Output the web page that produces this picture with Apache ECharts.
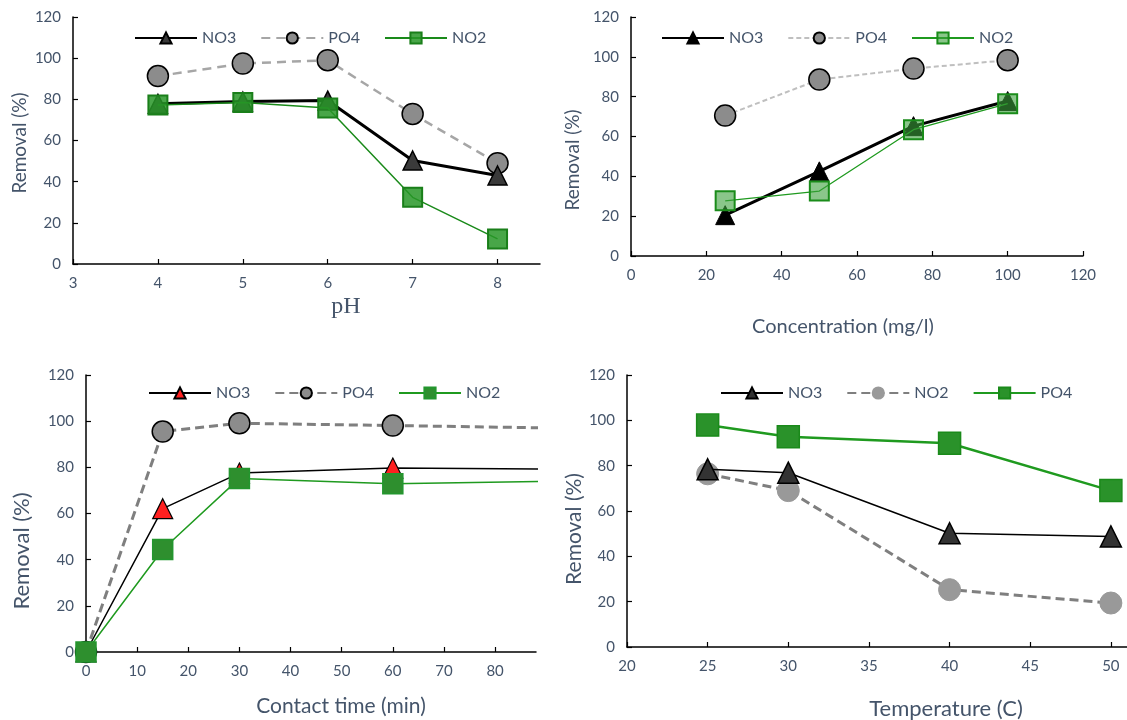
<!DOCTYPE html>
<html>
<head>
<meta charset="utf-8">
<script src="https://cdn.jsdelivr.net/npm/echarts@6/dist/echarts.min.js"></script>
<style>html,body{margin:0;padding:0;background:#fff}#c{width:1127px;height:720px}</style>
</head>
<body>
<div id="c"></div>
<script>
// Panel 1: pH
var pH = [4, 5, 6, 7, 8];
var pH_NO3 = [77.8, 78.9, 79.4, 50.3, 43];
var pH_PO4 = [91.3, 97.4, 99, 72.9, 49];
var pH_NO2 = [77.3, 78.5, 75.8, 32.4, 12.2];
// Panel 2: concentration
var conc = [25, 50, 75, 100];
var conc_NO3 = [20.5, 42.5, 65.2, 77.8];
var conc_PO4 = [70.5, 88.6, 94.1, 98.3];
var conc_NO2 = [27.7, 32.6, 63.4, 76.5];
// Panel 3: contact time
var time = [0, 15, 30, 60, 90];
var time_NO3 = [0, 62.1, 77.5, 79.7, 79.3];
var time_PO4 = [0, 95.5, 99.1, 98.1, 97.1];
var time_NO2 = [0, 44.4, 75.2, 72.9, 73.9];
// Panel 4: temperature
var temp = [25, 30, 40, 50];
var temp_NO3 = [78.4, 76.9, 50.2, 48.8];
var temp_NO2 = [76.4, 69.0, 25.3, 19.4];
var temp_PO4 = [97.9, 92.8, 89.9, 69.0];
// tick labels
var yTicks = [0, 20, 40, 60, 80, 100, 120];
var xTicks1 = [3, 4, 5, 6, 7, 8];
var xTicks2 = [0, 20, 40, 60, 80, 100, 120];
var xTicks3 = [0, 10, 20, 30, 40, 50, 60, 70, 80];
var xTicks4 = [20, 25, 30, 35, 40, 45, 50];

function pairs(xs, ys) { return xs.map(function (x, i) { return [x, ys[i]]; }); }

var TXT = '#44546a';
var FONT = 'Lato';

function xAx(idx, min, max, ticks) {
  return {
    type: 'value', gridIndex: idx, min: min, max: max,
    splitLine: { show: false },
    axisLine: { lineStyle: { color: '#000', width: 1.5 } },
    axisTick: { show: true, inside: true, length: 5, lineStyle: { color: '#000', width: 1.2 }, customValues: ticks },
    axisLabel: { color: TXT, fontSize: 15, fontFamily: FONT, margin: 12, customValues: ticks }
  };
}
function yAx(idx) {
  return {
    type: 'value', gridIndex: idx, min: 0, max: 120, interval: 20,
    splitLine: { show: false },
    axisLine: { show: true, lineStyle: { color: '#000', width: 1.5 } },
    axisTick: { show: true, inside: true, length: 5, lineStyle: { color: '#000', width: 1.2 } },
    axisLabel: { color: TXT, fontSize: 15, fontFamily: FONT, margin: 12 }
  };
}
function ser(idx, name, data, o) {
  return {
    type: 'line', name: idx + '|' + name, xAxisIndex: idx, yAxisIndex: idx,
    data: data, symbol: o.symbol, symbolSize: o.size,
    lineStyle: { color: o.line, width: o.lw, type: o.dash || 'solid' },
    itemStyle: { color: o.fill, borderColor: o.border, borderWidth: o.bw },
    emphasis: { disabled: true }, animation: false, z: o.z || 2
  };
}
function legend(idx, left, top) {
  return {
    data: [idx + '|' + arguments[3], idx + '|' + arguments[4], idx + '|' + arguments[5]],
    left: left, top: top, itemWidth: 62, itemHeight: 14, itemGap: 24,
    formatter: function (n) { return n.split('|')[1]; },
    textStyle: { color: TXT, fontSize: 16, fontFamily: FONT },
    selectedMode: false
  };
}
function txt(x, y, s, size, rot, fam) {
  return {
    type: 'text', x: x, y: y, rotation: rot ? Math.PI / 2 : 0,
    style: { text: s, font: size + 'px ' + (fam || FONT), fill: TXT, align: 'center', verticalAlign: 'middle' }
  };
}

var option = {
  backgroundColor: '#fff',
  animation: false,
  grid: [
    { left: 73, top: 17, width: 467, height: 247 },
    { left: 631, top: 17, width: 452, height: 239 },
    { left: 86, top: 375, width: 450, height: 277 },
    { left: 627, top: 375, width: 500, height: 272 }
  ],
  xAxis: [
    xAx(0, 3, 8.5, xTicks1),
    xAx(1, 0, 120, xTicks2),
    xAx(2, 0, 88, xTicks3),
    xAx(3, 20, 51, xTicks4)
  ],
  yAxis: [yAx(0), yAx(1), yAx(2), yAx(3)],
  legend: [
    legend(0, 129, 25, 'NO3', 'PO4', 'NO2'),
    legend(1, 656, 25, 'NO3', 'PO4', 'NO2'),
    legend(2, 143, 380, 'NO3', 'PO4', 'NO2'),
    legend(3, 715, 380, 'NO3', 'NO2', 'PO4')
  ],
  series: [
    ser(0, 'PO4', pairs(pH, pH_PO4), { symbol: 'circle', size: 21, line: '#a6a6a6', lw: 2.5, dash: [9, 6], fill: '#8c8c8c', border: '#000', bw: 1.5 }),
    ser(0, 'NO3', pairs(pH, pH_NO3), { symbol: 'triangle', size: 19, line: '#000', lw: 3, fill: '#3a3a3a', border: '#000', bw: 1.5, z: 3 }),
    ser(0, 'NO2', pairs(pH, pH_NO2), { symbol: 'rect', size: 19, line: '#1a8a1a', lw: 1.5, fill: 'rgba(40,150,40,0.85)', border: '#1a7f1a', bw: 2, z: 4 }),

    ser(1, 'NO3', pairs(conc, conc_NO3), { symbol: 'triangle', size: 19, line: '#000', lw: 3, fill: '#000', border: '#000', bw: 1, z: 3 }),
    ser(1, 'PO4', pairs(conc, conc_PO4), { symbol: 'circle', size: 21, line: '#bfbfbf', lw: 2, dash: [5, 3], fill: '#8c8c8c', border: '#000', bw: 1.5 }),
    ser(1, 'NO2', pairs(conc, conc_NO2), { symbol: 'rect', size: 19, line: '#1f9a1f', lw: 1.3, fill: 'rgba(60,160,60,0.6)', border: '#1a8c1a', bw: 2, z: 4 }),

    ser(2, 'NO3', pairs(time, time_NO3), { symbol: 'triangle', size: 20, line: '#000', lw: 1.5, fill: '#ff2020', border: '#000', bw: 1.2, z: 3 }),
    ser(2, 'PO4', pairs(time, time_PO4), { symbol: 'circle', size: 21, line: '#7f7f7f', lw: 3, dash: [9, 5], fill: '#8c8c8c', border: '#000', bw: 1.5 }),
    ser(2, 'NO2', pairs(time, time_NO2), { symbol: 'rect', size: 20, line: '#1f9a1f', lw: 1.5, fill: '#2e8f2e', border: '#23962e', bw: 1.5, z: 4 }),

    ser(3, 'NO3', pairs(temp, temp_NO3), { symbol: 'triangle', size: 21, line: '#000', lw: 1.5, fill: '#333', border: '#000', bw: 1.5, z: 3 }),
    ser(3, 'NO2', pairs(temp, temp_NO2), { symbol: 'circle', size: 22, line: '#7f7f7f', lw: 3, dash: [9, 5], fill: '#999', border: '#999', bw: 1 }),
    ser(3, 'PO4', pairs(temp, temp_PO4), { symbol: 'rect', size: 22, line: '#1f9a1f', lw: 2.5, fill: '#2a922a', border: '#1a8a1a', bw: 1.5, z: 4 })
  ],
  graphic: [
    txt(346, 307, 'pH', 24, false, '"Liberation Serif"'),
    txt(843, 327, 'Concentration (mg/l)', 20),
    txt(341, 706, 'Contact time (min)', 21),
    txt(946, 709, 'Temperature (C)', 22),
    txt(20, 143, 'Removal (%)', 19, true),
    txt(573, 160, 'Removal (%)', 19, true),
    txt(22, 551, 'Removal (%)', 22, true),
    txt(574, 529, 'Removal (%)', 21, true)
  ]
};
var chart = echarts.init(document.getElementById('c'), null, { renderer: 'canvas' });
chart.setOption(option);
</script>
</body>
</html>
